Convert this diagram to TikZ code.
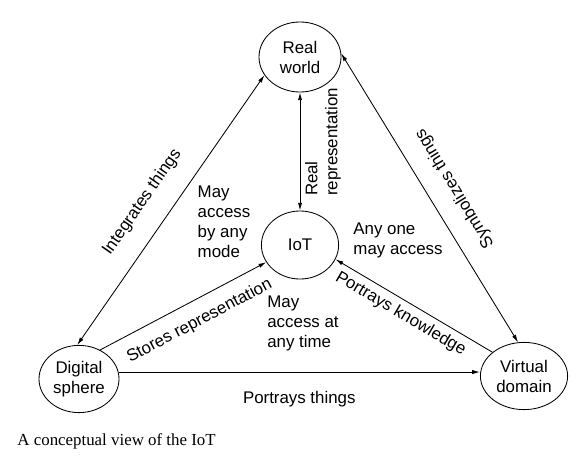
\documentclass[tikz,border=0pt]{standalone}
\usepackage{fontspec}
\setmainfont{Liberation Sans}
\newfontfamily\capfont{Liberation Serif}
\usetikzlibrary{arrows.meta, positioning, calc, shapes.geometric}

\begin{document}
\begin{tikzpicture}[
    x=0.025cm, y=0.025cm,
    font=\fontsize{12}{14.2}\selectfont,
    >={Latex[length=5.5pt, width=3pt]},
    realm/.style={draw, ellipse, line width=0.6pt, align=center, inner sep=1pt},
    edgelabel/.style={midway, sloped, inner sep=4pt},
    every path/.style={line width=0.6pt}
]
\useasboundingbox (0,0) rectangle (584,-461);
% Nodes
\node[realm, minimum width=2.05cm, minimum height=1.75cm] (real) at (300,-57) {Real\\world};
\node[realm, minimum width=1.93cm, minimum height=1.7cm] (iot) at (300,-245) {IoT};
\node[realm, minimum width=2.0cm, minimum height=1.68cm] (digital) at (79,-379) {Digital\\sphere};
\node[realm, minimum width=2.18cm, minimum height=1.68cm] (virtual) at (524,-376) {Virtual\\domain};
% Free texts
\node[align=left] (bymode) at (224,-222) {May\\access\\by any\\mode};
\node[align=left] (anyone) at (398,-240) {Any one\\may access};
\node[align=left] (anytime) at (303,-323) {May\\access at\\any time};
% Edges with rotated labels (sloped)
\draw[<->] (digital.93) -- node[edgelabel, pos=0.47, above=10pt] {Integrates things} (real.207);

\draw[<->] (virtual.100) -- node[edgelabel, pos=0.485, allow upside down, below=9pt] {Symbolizes things} (real.5);

\draw[<->] (real.south) -- node[pos=0.42, anchor=north, rotate=90, align=left] {Real\\representation} (iot.north);

\draw[->] (digital.54) -- node[edgelabel, pos=0.54, below=5pt] {Stores representation} (iot.207);

\draw[<-] (iot.338) -- node[edgelabel, pos=0.46, below=0pt] {Portrays knowledge} (virtual.143);

\draw[->] (digital.10) -- node[below=10pt] {Portrays things} (digital.10 -| virtual.west);

\node[font=\capfont\fontsize{12}{14}\selectfont, anchor=base west, inner sep=0pt] (caption) at (17,-445) {A conceptual view of the IoT};
\end{tikzpicture}
\end{document}
